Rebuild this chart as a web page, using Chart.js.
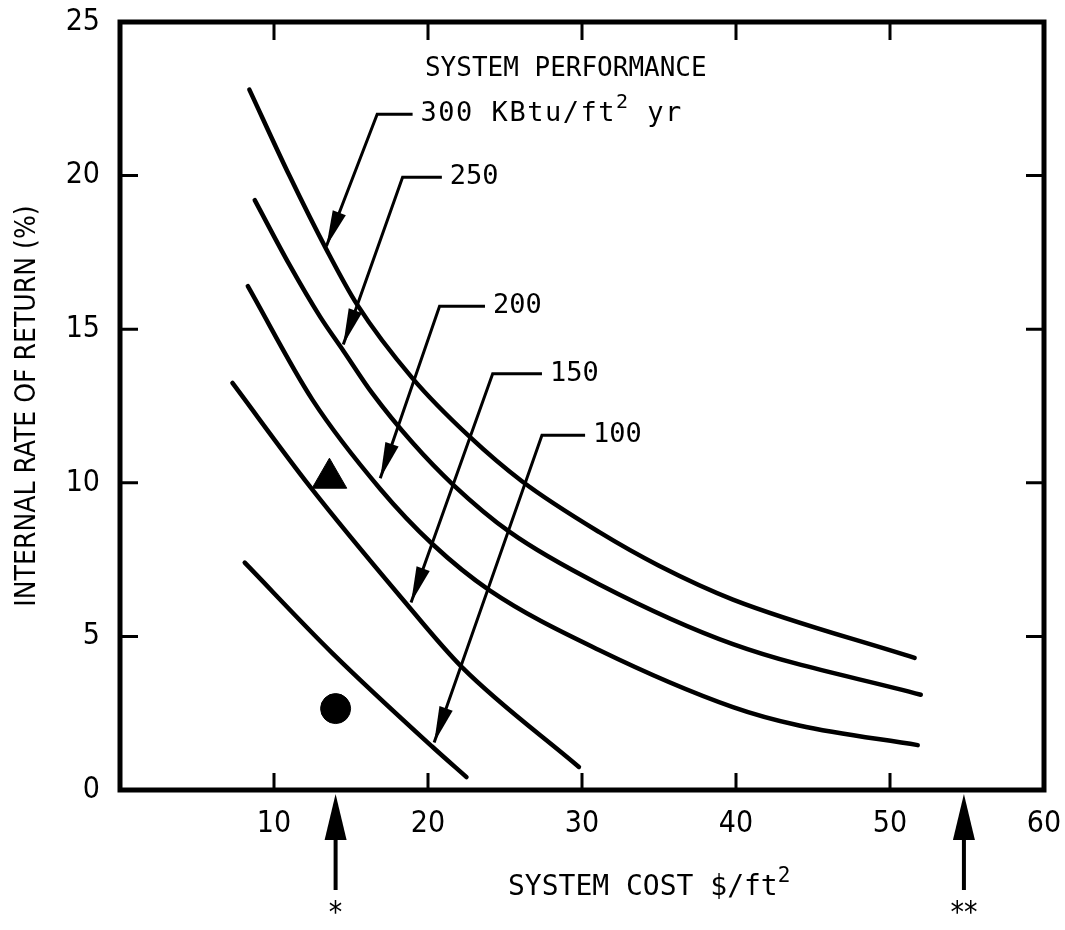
<!DOCTYPE html>
<html>
<head>
<meta charset="utf-8">
<script src="https://cdn.jsdelivr.net/npm/chart.js@4.4.1/dist/chart.umd.min.js"></script>
<style>
  html, body { margin: 0; padding: 0; background: #fff; }
</style>
</head>
<body>
<canvas id="irr-chart" width="1065" height="930"></canvas>
<script>
// tick labels
const xTicks = [10, 20, 30, 40, 50, 60];
const yTicks = [0, 5, 10, 15, 20, 25];

// system cost ($/ft2) vs internal rate of return (%), one curve per performance level
const cost300 = [8.4, 11.0, 13.4, 15.4, 19.0, 22.7, 26.1, 31.1, 35.0, 39.8, 51.6];
const irr300 = [22.8, 20.0, 17.6, 15.8, 13.4, 11.5, 10.05, 8.4, 7.3, 6.2, 4.3];
const cost250 = [8.75, 11.0, 13.0, 14.5, 16.4, 19.0, 21.6, 25.3, 31.1, 39.8, 52.0];
const irr250 = [19.2, 17.1, 15.4, 14.3, 12.9, 11.3, 9.95, 8.4, 6.7, 4.75, 3.1];
const cost200 = [8.3, 12.5, 16.9, 20.3, 24.0, 31.1, 39.8, 44.1, 51.8];
const irr200 = [16.4, 12.7, 9.8, 8.0, 6.5, 4.56, 2.7, 2.1, 1.46];
const cost150 = [7.3, 12.3, 18.2, 22.2, 29.8];
const irr150 = [13.25, 9.9, 6.3, 4.0, 0.75];
const cost100 = [8.1, 13.8, 20.3, 22.5];
const irr100 = [7.4, 4.45, 1.4, 0.42];

// the two single systems
const triangleCost = [13.6];
const triangleIrr = [10.15];
const circleCost = [14.0];
const circleIrr = [2.65];

// callouts: label, corner of leader, end of short bar, arrow tip (data units)
const calloutLabels = ["300 KBtu/ft|2| yr", "250", "200", "150", "100"];
const calloutCornerX = [16.7, 18.35, 20.75, 24.2, 27.4];
const calloutCornerY = [22.0, 19.95, 15.75, 13.55, 11.55];
const calloutBarEndX = [19.0, 20.9, 23.7, 27.4, 30.2];
const calloutTipX = [13.4, 14.5, 16.9, 18.9, 20.4];
const calloutTipY = [17.7, 14.5, 10.15, 6.1, 1.55];

// marked costs below the axis
const markedCosts = [14.0, 54.8];
const markedLabels = ["*", "**"];

const FONT = "'DejaVu Sans Condensed', 'DejaVu Sans', sans-serif";
const MONO = "'DejaVu Sans Mono', monospace";

function pts(xs, ys) {
  return xs.map((x, i) => ({ x: x, y: ys[i] }));
}

function curve(xs, ys) {
  return {
    data: pts(xs, ys),
    showLine: true,
    borderColor: "#000",
    borderWidth: 4.5,
    pointRadius: 0,
    cubicInterpolationMode: "monotone",
    borderCapStyle: "round",
  };
}

// draws "abc|2| def" with the middle part raised and smaller
function supText(ctx, text, x, y, size, family) {
  const parts = text.split("|");
  let cx = x;
  parts.forEach((p, i) => {
    if (i % 2 === 1) {
      ctx.font = Math.round(size * 0.75) + "px " + family;
      ctx.fillText(p, cx, y - size * 0.42);
    } else {
      ctx.font = size + "px " + family;
      ctx.fillText(p, cx, y);
    }
    cx += ctx.measureText(p).width;
  });
}

function arrowHead(ctx, x0, y0, x1, y1, len, half) {
  const a = Math.atan2(y1 - y0, x1 - x0);
  ctx.beginPath();
  ctx.moveTo(x1, y1);
  ctx.lineTo(x1 - len * Math.cos(a) + half * Math.sin(a), y1 - len * Math.sin(a) - half * Math.cos(a));
  ctx.lineTo(x1 - len * Math.cos(a) - half * Math.sin(a), y1 - len * Math.sin(a) + half * Math.cos(a));
  ctx.closePath();
  ctx.fill();
}

const paperPlugin = {
  id: "paper",
  afterDraw(chart) {
    const ctx = chart.ctx;
    const ca = chart.chartArea;
    const xs = chart.scales.x;
    const ys = chart.scales.y;
    ctx.save();
    ctx.strokeStyle = "#000";
    ctx.fillStyle = "#000";

    // frame
    ctx.lineWidth = 5;
    ctx.strokeRect(ca.left, ca.top, ca.right - ca.left, ca.bottom - ca.top);

    // inward ticks on all four sides
    ctx.lineWidth = 3;
    xTicks.forEach(v => {
      if (v >= 60) return;
      const px = xs.getPixelForValue(v);
      ctx.beginPath();
      ctx.moveTo(px, ca.bottom); ctx.lineTo(px, ca.bottom - 17);
      ctx.moveTo(px, ca.top); ctx.lineTo(px, ca.top + 18);
      ctx.stroke();
    });
    yTicks.forEach(v => {
      if (v <= 0 || v >= 25) return;
      const py = ys.getPixelForValue(v);
      ctx.beginPath();
      ctx.moveTo(ca.left, py); ctx.lineTo(ca.left + 18, py);
      ctx.moveTo(ca.right, py); ctx.lineTo(ca.right - 18, py);
      ctx.stroke();
    });

    // callouts
    ctx.textBaseline = "middle";
    ctx.textAlign = "left";
    calloutLabels.forEach((lab, i) => {
      const cx = xs.getPixelForValue(calloutCornerX[i]);
      const cy = ys.getPixelForValue(calloutCornerY[i]);
      const ex = xs.getPixelForValue(calloutBarEndX[i]);
      const tx = xs.getPixelForValue(calloutTipX[i]);
      const ty = ys.getPixelForValue(calloutTipY[i]);
      ctx.lineWidth = 3;
      ctx.beginPath();
      ctx.moveTo(ex, cy);
      ctx.lineTo(cx, cy);
      ctx.lineTo(tx, ty);
      ctx.stroke();
      arrowHead(ctx, cx, cy, tx, ty, 36, 7);
      ctx.letterSpacing = i === 0 ? "1.5px" : "0px";
      supText(ctx, lab, ex + 8, cy, 27, MONO);
    });
    ctx.letterSpacing = "0px";

    // heading inside the plot
    ctx.font = "26px " + MONO;
    ctx.fillText("SYSTEM PERFORMANCE", xs.getPixelForValue(19.8), ys.getPixelForValue(23.45));

    // arrows under the axis
    ctx.textAlign = "center";
    markedCosts.forEach((v, i) => {
      const px = xs.getPixelForValue(v);
      ctx.lineWidth = 4;
      ctx.beginPath();
      ctx.moveTo(px, ca.bottom + 100);
      ctx.lineTo(px, ca.bottom + 30);
      ctx.stroke();
      arrowHead(ctx, px, ca.bottom + 100, px, ca.bottom + 4, 46, 11);
      ctx.font = "30px " + FONT;
      ctx.fillText(markedLabels[i], px, ca.bottom + 124);
    });

    // axis titles
    ctx.textAlign = "left";
    supText(ctx, "SYSTEM COST $/ft|2|", 508, ca.bottom + 98, 28, MONO);

    ctx.translate(28, (ca.top + ca.bottom) / 2);
    ctx.rotate(-Math.PI / 2);
    ctx.textAlign = "center";
    ctx.font = "28px " + FONT;
    ctx.fillText("INTERNAL RATE OF RETURN (%)", 0, 0);
    ctx.restore();
  },
};

const canvas = document.querySelector("#irr-chart");

const chart1 = new Chart(canvas, {
  type: "scatter",
  data: {
    datasets: [
      curve(cost300, irr300),
      curve(cost250, irr250),
      curve(cost200, irr200),
      curve(cost150, irr150),
      curve(cost100, irr100),
      {
        data: pts(triangleCost, triangleIrr),
        pointStyle: "triangle",
        pointRadius: 20,
        backgroundColor: "#000",
        borderColor: "#000",
        borderWidth: 1,
      },
      {
        data: pts(circleCost, circleIrr),
        pointStyle: "circle",
        pointRadius: 15,
        backgroundColor: "#000",
        borderColor: "#000",
        borderWidth: 1,
      },
    ],
  },
  options: {
    responsive: false,
    animation: false,
    devicePixelRatio: 1,
    layout: { padding: { left: 0, right: 20, top: 22, bottom: 0 } },
    plugins: { legend: { display: false }, tooltip: { enabled: false } },
    scales: {
      x: {
        type: "linear",
        min: 0,
        max: 60,
        grid: { display: false, drawTicks: false },
        border: { display: false },
        afterBuildTicks: s => { s.ticks = xTicks.map(v => ({ value: v })); },
        afterFit: s => { s.height = 140; s.paddingLeft = 0; s.paddingRight = 0; },
        ticks: { color: "#000", padding: 16, font: { family: FONT, size: 30 } },
      },
      y: {
        type: "linear",
        min: 0,
        max: 25,
        grid: { display: false, drawTicks: false },
        border: { display: false },
        afterBuildTicks: s => { s.ticks = yTicks.map(v => ({ value: v })); },
        afterFit: s => { s.width = 120; s.paddingTop = 0; s.paddingBottom = 0; },
        ticks: { color: "#000", padding: 20, font: { family: FONT, size: 30 } },
      },
    },
  },
  plugins: [paperPlugin],
});
</script>
</body>
</html>
